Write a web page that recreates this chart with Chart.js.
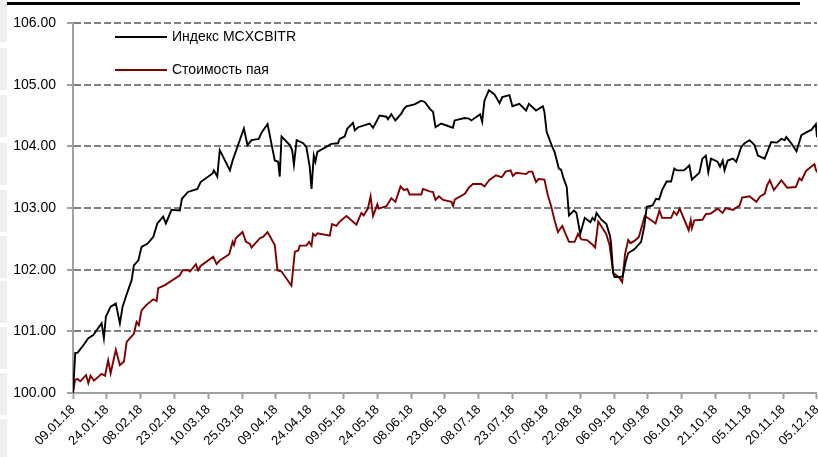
<!DOCTYPE html>
<html>
<head>
<meta charset="utf-8">
<script src="https://cdn.jsdelivr.net/npm/chart.js@4/dist/chart.umd.min.js"></script>
<style>
  html, body { margin: 0; padding: 0; background: #fff; overflow: hidden; }
  #wrap { position: relative; width: 818px; height: 457px; overflow: hidden; }
  #topline { position: absolute; left: 0; top: 2px; width: 800px; height: 3px; background: #000; }
  .side { position: absolute; left: 0; width: 7px; height: 42px; background: #efefef; }
  canvas { position: absolute; left: 0; top: 0; }
</style>
</head>
<body>
<div id="wrap">
  <canvas id="chart" width="831" height="457"></canvas>
  <div id="topline"></div>
</div>
<script>
// ── Data (day offset from 09.01.18, value) ──
const tickLabels = ['09.01.18', '24.01.18', '08.02.18', '23.02.18', '10.03.18', '25.03.18', '09.04.18', '24.04.18',
  '09.05.18', '24.05.18', '08.06.18', '23.06.18', '08.07.18', '23.07.18', '07.08.18', '22.08.18', '06.09.18',
  '21.09.18', '06.10.18', '21.10.18', '05.11.18', '20.11.18', '05.12.18'];

const seriesNames = ['Индекс MCXCBITR', 'Стоимость пая'];

const indexDays = [0, 1, 2, 4.5, 6.8, 9, 12.7, 13.7, 14.6, 16.7, 19, 20.8, 22, 23.7, 26, 27, 29, 30.4, 33, 35.6,
  37.4, 40, 41.2, 43.7, 47.4, 48.3, 51, 55.2, 56.6, 61.9, 62.5, 64, 65.1, 69.6, 70.8, 75.8, 77.4, 79.2, 82.4, 83.6,
  86.3, 89.5, 91, 91.7, 92.5, 96.2, 97.2, 98, 99.2, 102.1, 103.5, 105, 105.8, 106.8, 107.5, 108.4, 114.6, 117.5,
  118.3, 120.5, 121.7, 124.2, 125, 126.5, 131.6, 133.1, 136, 139, 139.7, 141.2, 143, 145.6, 146.8, 147.9, 151.5,
  154.5, 156, 158.5, 159.7, 160.8, 163.3, 166.3, 168.5, 169.3, 173.7, 175.6, 176.7, 180.6, 181.5, 182.5, 184.5,
  187, 189.2, 190.4, 193.6, 194.9, 198, 201, 202.2, 205.4, 208.4, 209.1, 210.1, 212.6, 213.6, 215.5, 216.5, 217.6,
  219, 220, 222.2, 223.3, 225, 227, 229.5, 230.4, 231.4, 232.2, 234.4, 236.6, 238.1, 238.6, 239.6, 240.2, 242.4,
  243.8, 245.3, 246.3, 249, 252, 253.4, 254.5, 257.1, 258.6, 260, 261.3, 263.3, 265.3, 266.7, 267.8, 271, 273.4,
  274.5, 277.8, 279.2, 280.7, 281.8, 283, 285.9, 287, 288.2, 289, 290.4, 292.7, 294.2, 296.4, 297.9, 300.1, 302.3,
  303.8, 306.8, 309.7, 312.2, 314.2, 315.7, 316.4, 318.6, 320.9, 322.4, 323.1, 325.4, 327.6, 329.5, 330];
const indexValues = [100.00, 100.65, 100.65, 100.77, 100.89, 100.94, 101.13, 100.89, 101.24, 101.40, 101.45, 101.13,
  101.40, 101.59, 101.83, 102.07, 102.15, 102.37, 102.42, 102.53, 102.75, 102.86, 102.75, 102.97, 102.96, 103.15,
  103.26, 103.31, 103.42, 103.56, 103.61, 103.51, 103.94, 103.61, 103.77, 104.29, 104.02, 104.10, 104.12, 104.22,
  104.36, 103.77, 103.75, 103.51, 104.16, 104.02, 103.94, 103.70, 104.10, 104.05, 103.99, 103.67, 103.31, 103.85,
  103.75, 103.91, 104.04, 104.05, 104.12, 104.16, 104.29, 104.38, 104.26, 104.31, 104.37, 104.30, 104.50, 104.48,
  104.44, 104.52, 104.42, 104.53, 104.61, 104.65, 104.68, 104.74, 104.72, 104.60, 104.56, 104.31, 104.37, 104.33,
  104.30, 104.42, 104.46, 104.45, 104.42, 104.52, 104.40, 104.74, 104.91, 104.84, 104.70, 104.80, 104.83, 104.65,
  104.69, 104.58, 104.69, 104.58, 104.65, 104.56, 104.23, 103.99, 103.91, 103.64, 103.62, 103.48, 103.34, 102.88,
  102.96, 102.92, 102.58, 102.84, 102.77, 102.84, 102.80, 102.92, 102.81, 102.74, 102.56, 102.45, 101.94, 101.88,
  101.88, 101.89, 102.15, 102.27, 102.33, 102.45, 102.70, 103.02, 103.04, 103.15, 103.14, 103.29, 103.43, 103.43,
  103.64, 103.61, 103.61, 103.69, 103.46, 103.57, 103.80, 103.85, 103.58, 103.80, 103.75, 103.67, 103.77, 103.61,
  103.77, 103.80, 103.75, 103.99, 104.05, 104.10, 104.02, 103.85, 103.80, 104.07, 104.06, 104.12, 104.10, 104.15,
  104.05, 103.92, 104.10, 104.18, 104.23, 104.27, 104.36, 104.15];

const navDays = [0, 0.9, 1.9, 3.2, 5.8, 6.8, 7.8, 9.3, 12.7, 14.2, 15.6, 16.7, 19, 20.8, 22.6, 23.8, 27, 28.2, 29.2,
  30.4, 32.6, 35.6, 37.1, 37.8, 40.8, 47.4, 48.6, 51.1, 51.9, 54.5, 55.5, 56.6, 62.2, 63.7, 65.1, 69.3, 70.8, 71.4,
  72.2, 75.2, 76.7, 78.4, 79.2, 82.9, 84.3, 86.3, 89.5, 90.7, 92.5, 96.9, 98.4, 99.9, 100.6, 103.5, 104.7, 105.8,
  106.5, 107.5, 108.4, 113.9, 114.9, 116.8, 118.3, 121.3, 125.7, 127.9, 128.9, 130.8, 132, 133.1, 135, 135.6, 139,
  141.2, 143, 145.3, 146.8, 148.3, 149.3, 154.5, 155.2, 158.2, 159.7, 160.8, 162.3, 164.2, 167.9, 168.6, 169.4,
  173.8, 175.6, 177.4, 181.1, 182.5, 184.6, 187.6, 190.2, 191.9, 194.1, 195.1, 196.6, 201, 202.2, 203.7, 205.4,
  206.5, 209.1, 210.6, 212.1, 213.6, 215.1, 217, 220, 222.5, 224, 225.5, 228, 230.6, 231.6, 233, 236.5, 238, 239.6,
  242.3, 243.6, 244.9, 246.3, 247.3, 249.2, 251, 253.6, 256.2, 258.4, 260.1, 261.3, 265.3, 266.5, 267.8, 269.1,
  273.1, 274, 274.5, 275.6, 279.2, 280.7, 282.9, 285.9, 288.1, 289.6, 292.7, 295.7, 296.8, 300.1, 303.1, 304.9,
  306.8, 307.9, 309.1, 310.9, 314.2, 316.8, 320.6, 322.2, 323.2, 325.1, 327.4, 328.9, 329.6, 330];
const navValues = [100.00, 100.21, 100.23, 100.19, 100.29, 100.16, 100.28, 100.20, 100.31, 100.28, 100.53, 100.32,
  100.70, 100.45, 100.51, 100.83, 100.96, 101.15, 101.10, 101.34, 101.43, 101.52, 101.49, 101.70, 101.75, 101.91,
  101.99, 101.99, 101.97, 102.09, 101.99, 102.06, 102.21, 102.09, 102.15, 102.25, 102.45, 102.40, 102.51, 102.61,
  102.45, 102.42, 102.36, 102.51, 102.53, 102.61, 102.40, 101.99, 101.97, 101.74, 102.29, 102.31, 102.39, 102.39,
  102.45, 102.39, 102.58, 102.55, 102.59, 102.55, 102.74, 102.71, 102.78, 102.87, 102.73, 102.92, 102.88, 102.99,
  103.19, 102.87, 103.06, 102.99, 103.03, 103.16, 103.10, 103.35, 103.29, 103.31, 103.22, 103.22, 103.31, 103.27,
  103.26, 103.13, 103.19, 103.13, 103.10, 103.03, 103.14, 103.23, 103.33, 103.39, 103.39, 103.35, 103.45, 103.53,
  103.50, 103.59, 103.61, 103.52, 103.57, 103.55, 103.59, 103.59, 103.42, 103.47, 103.46, 103.21, 103.03, 102.80,
  102.61, 102.71, 102.45, 102.45, 102.58, 102.49, 102.48, 102.40, 102.36, 102.78, 102.58, 102.40, 101.95, 101.87,
  101.80, 102.26, 102.48, 102.43, 102.47, 102.53, 102.87, 102.81, 102.75, 102.96, 102.84, 102.84, 102.94, 102.89,
  102.99, 102.64, 102.80, 102.67, 102.80, 102.81, 102.90, 102.91, 102.99, 102.92, 103.00, 102.97, 103.04, 103.17,
  103.19, 103.10, 103.19, 103.23, 103.37, 103.45, 103.29, 103.45, 103.33, 103.34, 103.48, 103.45, 103.60, 103.67,
  103.71, 103.61, 103.59];

const yMin = 100, yMax = 106, yStep = 1, xStep = 15;

(function() {
  'use strict';

  const FONT = "'Liberation Sans', Arial, sans-serif";
  const COLORS = ['#000000', '#800000'];

  // ── Left edge blocks ──
  [0, 48, 95, 143, 190, 236, 281, 327, 373, 419].forEach(function(top) {
    const d = document.createElement('div');
    d.className = 'side';
    d.style.top = top + 'px';
    document.getElementById('wrap').appendChild(d);
  });

  function toPoints(days, values) {
    return days.map(function(d, i) { return { x: d, y: values[i] }; });
  }

  // ── Legend drawn inside plot area ──
  const innerLegend = {
    id: 'innerLegend',
    afterDraw: function(chart) {
      const ctx = chart.ctx;
      const rows = [37, 70];
      ctx.save();
      ctx.font = '14px ' + FONT;
      ctx.textBaseline = 'middle';
      chart.data.datasets.forEach(function(ds, i) {
        ctx.strokeStyle = ds.borderColor;
        ctx.lineWidth = 1.8;
        ctx.beginPath();
        ctx.moveTo(115, rows[i]);
        ctx.lineTo(167, rows[i]);
        ctx.stroke();
        ctx.fillStyle = '#000';
        ctx.fillText(ds.label, 172, rows[i]);
      });
      ctx.restore();
    }
  };

  new Chart(document.getElementById('chart'), {
    type: 'line',
    data: {
      datasets: [
        { label: seriesNames[0], data: toPoints(indexDays, indexValues), borderColor: COLORS[0], borderWidth: 1.9, pointRadius: 0, tension: 0 },
        { label: seriesNames[1], data: toPoints(navDays, navValues), borderColor: COLORS[1], borderWidth: 1.9, pointRadius: 0, tension: 0 }
      ]
    },
    options: {
      responsive: false,
      devicePixelRatio: 1,
      animation: false,
      layout: { padding: { top: 23, right: 0, left: 0, bottom: 0 } },
      plugins: { legend: { display: false }, tooltip: { enabled: false } },
      scales: {
        x: {
          type: 'linear',
          min: 0,
          max: (tickLabels.length - 1) * xStep,
          afterFit: function(s) { s.height = 64; },
          border: { display: true, color: '#a0a0a0', width: 2 },
          grid: { drawOnChartArea: false, drawTicks: true, tickLength: 6, tickColor: '#a0a0a0', tickWidth: 2 },
          ticks: {
            stepSize: xStep,
            autoSkip: false,
            maxRotation: 45,
            minRotation: 45,
            padding: 3,
            color: '#000',
            font: { family: FONT, size: 13 },
            callback: function(v) { return tickLabels[Math.round(v / xStep)]; }
          }
        },
        y: {
          min: yMin,
          max: yMax,
          afterFit: function(s) { s.width = 73; },
          border: { display: true, color: '#a0a0a0', width: 2, dash: [7, 3] },
          grid: { color: '#808080', lineWidth: 2, drawTicks: true, tickLength: 6, tickColor: '#a0a0a0', tickWidth: 2 },
          ticks: {
            stepSize: yStep,
            padding: 11,
            color: '#000',
            font: { family: FONT, size: 14 },
            callback: function(v) { return v.toFixed(2); }
          }
        }
      }
    },
    plugins: [innerLegend]
  });
})();
</script>
</body>
</html>
